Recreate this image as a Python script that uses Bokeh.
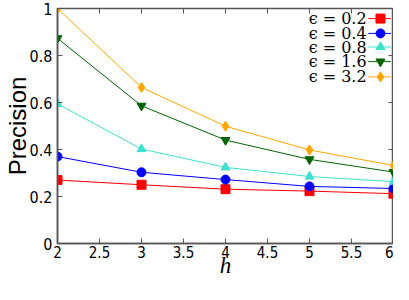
import math
from bokeh.plotting import figure
from bokeh.models import FixedTicker, Range1d
from bokeh.core.properties import value
from bokeh.embed import file_html
from bokeh.resources import INLINE

h = [2, 3, 4, 5, 6]
prec_02 = [0.270, 0.250, 0.231, 0.223, 0.212]
prec_04 = [0.370, 0.303, 0.272, 0.243, 0.234]
prec_08 = [0.594, 0.402, 0.324, 0.285, 0.263]
prec_16 = [0.873, 0.586, 0.440, 0.358, 0.304]
prec_32 = [1.000, 0.664, 0.499, 0.398, 0.332]
series_labels = ["ϵ = 0.2", "ϵ = 0.4", "ϵ = 0.8", "ϵ = 1.6", "ϵ = 3.2"]
x_ticks = [2, 2.5, 3, 3.5, 4, 4.5, 5, 5.5, 6]
x_tick_labels = ["2", "2.5", "3", "3.5", "4", "4.5", "5", "5.5", "6"]
y_ticks = [0, 0.2, 0.4, 0.6, 0.8, 1]
y_tick_labels = ["0", "0.2", "0.4", "0.6", "0.8", "1"]
x_title = "h"
y_title = "Precision"

series = [prec_02, prec_04, prec_08, prec_16, prec_32]
colors = ["#ff0000", "#0000ff", "#40e0d0", "#006400", "#ffa500"]
markers = ["square", "circle", "triangle", "inverted_triangle", "diamond"]
sizes = [9, 9, 9, 9, 10]

TICK_FONT = "Liberation Sans Narrow, DejaVu Sans Condensed, sans-serif"
FRAME = "#555555"

p = figure(width=393, height=284, output_backend="svg", toolbar_location=None,
           x_range=Range1d(2, 6), y_range=Range1d(0, 1),
           min_border_left=56, min_border_right=0, min_border_top=8, min_border_bottom=41)
p.outline_line_color = FRAME
p.outline_line_width = 1.5
p.grid.visible = False

def style_axis(ax, ticks, labels):
    ax.ticker = FixedTicker(ticks=ticks)
    ax.major_label_overrides = {t: l for t, l in zip(ticks, labels)}
    ax.major_tick_in = 5
    ax.major_tick_out = 0
    ax.minor_tick_line_color = None
    ax.major_tick_line_color = FRAME
    ax.axis_line_color = FRAME
    ax.axis_line_width = 1.5
    ax.major_label_text_font = TICK_FONT
    ax.major_label_text_color = "black"
    ax.major_label_text_font_size = "16px"
    ax.axis_label_text_color = "black"

style_axis(p.xaxis[0], x_ticks, x_tick_labels)
style_axis(p.yaxis[0], y_ticks, y_tick_labels)
p.xaxis[0].major_label_text_font_size = "15px"
p.xaxis[0].major_label_standoff = 2
p.yaxis[0].major_label_standoff = 5

p.xaxis[0].axis_label = x_title
p.xaxis[0].axis_label_text_font = "Liberation Serif"
p.xaxis[0].axis_label_text_font_style = "italic"
p.xaxis[0].axis_label_text_font_size = "23px"
p.xaxis[0].axis_label_standoff = -8

p.yaxis[0].axis_label = y_title
p.yaxis[0].axis_label_text_font = "Liberation Sans"
p.yaxis[0].axis_label_text_font_style = "normal"
p.yaxis[0].axis_label_text_font_size = "24px"
p.yaxis[0].axis_label_standoff = -4

# mirrored inward ticks on the top and right edges
p.ray(x=x_ticks, y=[1] * len(x_ticks), length=5, length_units="screen",
      angle=-math.pi / 2, line_color=FRAME, line_width=1)
p.ray(x=[6] * len(y_ticks), y=y_ticks, length=5, length_units="screen",
      angle=math.pi, line_color=FRAME, line_width=1)

for ys, c, m, s in zip(series, colors, markers, sizes):
    p.line(h, ys, line_color=c, line_width=1)
    p.scatter(h, ys, marker=m, size=s, fill_color=c, line_color=c)

# legend (gnuplot style: label on the left, sample on the right)
leg_y = [0.957, 0.894, 0.836, 0.774, 0.709]
for lab, ly, c, m, s in zip(series_labels, leg_y, colors, markers, sizes):
    p.text([5.68], [ly], text=[lab], text_align="right", text_baseline="middle",
           text_font=value("DejaVu Serif"), text_font_size="16px", text_color="black")
    p.line([5.70, 5.97], [ly, ly], line_color=c, line_width=1)
    p.scatter([5.845], [ly], marker=m, size=s, fill_color=c, line_color=c)

open("out.html", "w").write(file_html(p, INLINE))
